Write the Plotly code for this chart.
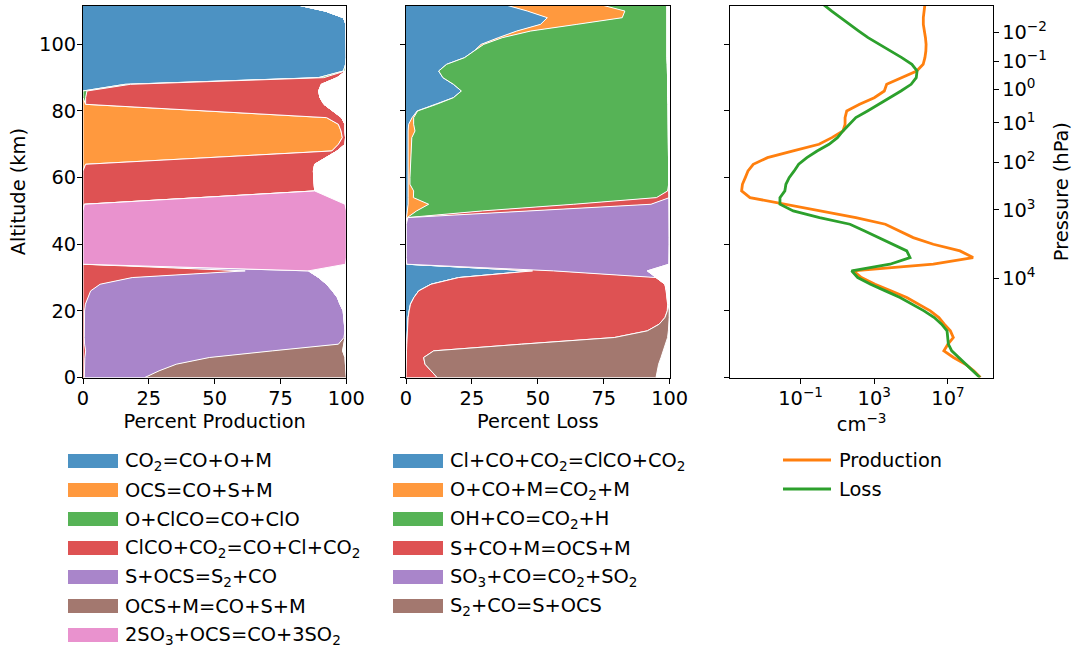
import plotly.graph_objects as go

# ---------------- data ----------------
alt = [0, 2, 4, 6, 8, 10, 12, 14, 16, 18, 20, 22, 24, 26, 28, 30, 32, 34, 36, 38,
       40, 42, 44, 46, 48, 50, 52, 54, 56, 58, 60, 62, 64, 66, 68, 70, 72, 74, 76, 78,
       80, 82, 84, 86, 88, 90, 92, 94, 96, 98, 100, 102, 104, 106, 108, 110, 112]

prod_labels = ["CO<sub>2</sub>=CO+O+M", "OCS=CO+S+M", "O+ClCO=CO+ClO",
               "ClCO+CO<sub>2</sub>=CO+Cl+CO<sub>2</sub>", "S+OCS=S<sub>2</sub>+CO",
               "OCS+M=CO+S+M", "2SO<sub>3</sub>+OCS=CO+3SO<sub>2</sub>"]
loss_labels = ["Cl+CO+CO<sub>2</sub>=ClCO+CO<sub>2</sub>", "O+CO+M=CO<sub>2</sub>+M",
               "OH+CO=CO<sub>2</sub>+H", "S+CO+M=OCS+M",
               "SO<sub>3</sub>+CO=CO<sub>2</sub>+SO<sub>2</sub>", "S<sub>2</sub>+CO=S+OCS"]
rate_labels = ["Production", "Loss"]

# percent production (altitude grid above)
p_co2_com = [0, 0, 0, 0, 0, 0, 0, 0, 0, 0, 0, 0, 0, 0, 0, 0, 0, 0, 0, 0,
             0, 0, 0, 0, 0, 0, 0, 0, 0, 0, 0, 0, 0, 0, 0, 0, 0, 0, 0, 0,
             0, 0, 0, 0, 16, 89.4, 98.9, 99.7, 100, 100, 100, 100, 100, 99.9, 98.9, 92, 80.5]
p_ocs_com = [0, 0, 0, 0, 0, 0, 0, 0, 0, 0, 0, 0, 0, 0, 0, 0, 0, 0, 0, 0,
             0, 0, 0, 0, 0, 0, 0, 0, 0, 0, 0, 0, 1, 48, 94.5, 97, 98.5, 98, 97, 92.5,
             45.5, 1, 0, 0, 0, 0, 0, 0, 0, 0, 0, 0, 0, 0, 0, 0, 0]
p_o_clco = [0, 0, 0, 0, 0, 0, 0, 0, 0, 0, 0, 0, 0, 0, 0, 0, 0, 0, 0, 0,
            0, 0, 0, 0, 0, 0, 0, 0, 0, 0, 0, 0, 0, 0, 0, 0, 0, 0, 0, 0,
            0, 0, 1, 1.5, 2, 2, 0.6, 0.2, 0, 0, 0, 0, 0, 0, 0, 0, 0]
p_clco_co2 = [0.5, 0.5, 0.5, 0.7, 1.0, 0.6, 0.5, 0.5, 0.5, 0.5, 0.6, 0.9, 1.8, 2.9, 6.5, 18.7, 61.6, 0, 0, 0,
              0, 0, 0, 0, 0, 0, 0.5, 44, 88, 87.8, 87.6, 87.5, 87, 44, 2, 2.5, 1.2, 1.5, 2.5, 5.7,
              49.5, 90.5, 89, 88, 72.5, 5.1, 0.3, 0.1, 0, 0, 0, 0, 0, 0, 0, 0, 0]
p_s_ocs = [23, 28.4, 35, 47.3, 71, 96.4, 98.6, 99, 98.8, 98.6, 98.2, 96.7, 94.8, 91.8, 86, 70.8, 24, 0, 0, 0,
           0, 0, 0, 0, 0, 0, 0, 0, 0, 0, 0, 0, 0, 0, 0, 0, 0, 0, 0, 0,
           0, 0, 0, 0, 0, 0, 0, 0, 0, 0, 0, 0, 0, 0, 0, 0, 0]
p_ocs_m = [76.5, 70.9, 64.1, 51.5, 26.6, 2, 0.4, 0, 0, 0, 0, 0, 0, 0, 0, 0, 0, 0, 0, 0,
           0, 0, 0, 0, 0, 0, 0, 0, 0, 0, 0, 0, 0, 0, 0, 0, 0, 0, 0, 0,
           0, 0, 0, 0, 0, 0, 0, 0, 0, 0, 0, 0, 0, 0, 0, 0, 0]
p_so3_ocs = [0, 0, 0, 0, 0, 0, 0, 0, 0, 0, 0, 0, 0, 0, 0, 0, 0, 99.7, 100, 100,
             100, 100, 100, 100, 100, 100, 99, 49.7, 0, 0, 0, 0, 0, 0, 0, 0, 0, 0, 0, 0,
             0, 0, 0, 0, 0, 0, 0, 0, 0, 0, 0, 0, 0, 0, 0, 0, 0]

# percent loss
l_cl_co = [0, 0, 0, 0.1, 0.2, 0.3, 0.4, 0.4, 0.5, 0.8, 1.2, 1.7, 3, 4.8, 9.5, 20, 48, 0.3, 0.1, 0.1,
           0.1, 0.1, 0.1, 0.1, 0.2, 0.5, 0.8, 0.8, 0.8, 0.6, 0.6, 0.6, 0.6, 0.6, 0.6, 0.6, 0.7, 0.8, 1.0, 2.3,
           4.2, 11.5, 18, 21, 18, 14, 12.4, 15.4, 22.2, 25.8, 28.5, 35, 42, 51, 53.6, 46, 37]
l_o_co = [0, 0, 0, 0, 0, 0, 0, 0, 0, 0, 0, 0, 0, 0, 0, 0, 0, 0, 0, 0,
          0, 0, 0, 0, 0.3, 3.5, 7.8, 2, 2.1, 0.9, 0.9, 1.0, 1.0, 1.2, 1.4, 1.4, 1.5, 2.6, 1.9, 0.6,
          0.2, 0.1, 0, 0, 0, 0, 0, 0, 0, 0, 1, 1.5, 5.3, 13.8, 28.4, 37, 36.3]
l_oh_co = [0, 0, 0, 0, 0, 0, 0, 0, 0, 0, 0, 0, 0, 0, 0, 0, 0, 0, 0, 0,
           0, 0, 0, 0, 0.1, 25, 55, 92.2, 96.3, 98.1, 98.1, 98.0, 98.0, 97.8, 97.6, 97.6, 97.4, 96.2, 96.7, 96.7,
           95.1, 87.8, 81.3, 78.3, 81.2, 85.2, 86.7, 83.7, 76.8, 73.2, 69.5, 62.5, 51.7, 34.2, 17, 16, 25.7]
l_s_co = [11.8, 9.5, 7.2, 6.6, 10.3, 43.5, 78.6, 91.1, 95.5, 97.4, 97.9, 97.5, 96, 94, 88.7, 74.8, 8, 0, 0, 0,
          0, 0, 0, 0, 0.1, 19.7, 29.3, 4.9, 0.7, 0.1, 0, 0, 0, 0, 0, 0, 0, 0, 0, 0,
          0, 0, 0, 0, 0, 0, 0, 0, 0, 0, 0, 0, 0, 0, 0, 0, 0]
l_so3_co = [0, 0, 0, 0, 0, 0, 0, 0, 0, 0, 0, 0, 0, 0, 0, 0, 35.5, 99.4, 99.7, 99.7,
            99.7, 99.7, 99.7, 99.7, 99.1, 51.2, 7, 0, 0, 0, 0, 0, 0, 0, 0, 0, 0, 0, 0, 0,
            0, 0, 0, 0, 0, 0, 0, 0, 0, 0, 0, 0, 0, 0, 0, 0, 0]
l_s2_co = [83, 85.8, 88.6, 90, 87, 54.5, 20.2, 8, 3.7, 1.6, 0.7, 0.2, 0, 0, 0, 0, 0, 0, 0, 0,
           0, 0, 0, 0, 0, 0, 0, 0, 0, 0, 0, 0, 0, 0, 0, 0, 0, 0, 0, 0,
           0, 0, 0, 0, 0, 0, 0, 0, 0, 0, 0, 0, 0, 0, 0, 0, 0]

# total CO production / loss rates (cm^-3)
prod_rate = [5.8e8, 2.5e8, 8.9e7, 2.0e7, 6.0e6, 1.0e7, 1.95e7, 1.35e7, 6.3e6, 3.2e6,
             1.1e6, 2.5e5, 5.8e4, 7.9e3, 1.1e3, 2.0e2, 7.2e1, 1.6e6, 2.3e8, 4.5e7,
             1.6e6, 1.3e5, 2.5e4, 4.0e3, 1.0e2, 1.26, 1.6e-2, 1.8e-4, 6.3e-5, 7.0e-5,
             1.0e-4, 1.4e-4, 2.7e-4, 1.6e-3, 4.0e-2, 1.0, 5.0, 2.0e1, 2.6e1, 2.6e1,
             3.2e1, 1.6e2, 1.0e3, 3.5e3, 4.7e3, 2.8e4, 2.0e5, 4.5e5, 5.6e5, 6.3e5,
             6.5e5, 6.0e5, 5.2e5, 4.6e5, 4.6e5, 5.0e5, 5.6e5]
loss_rate = [5.4e8, 2.2e8, 8.9e7, 3.6e7, 1.6e7, 1.05e7, 9.5e6, 8.9e6, 4.5e6, 1.8e6,
             5.0e5, 1.1e5, 2.5e4, 4.0e3, 6.3e2, 1.26e2, 5.9e1, 7.1e3, 8.7e4, 5.8e4,
             1.07e4, 1.8e3, 3.0e2, 4.8e1, 1.07, 4.0e-2, 7.6e-3, 7.6e-3, 1.4e-2, 1.6e-2,
             2.4e-2, 4.5e-2, 7.9e-2, 2.2e-1, 7.9e-1, 3.5, 1.0e1, 2.0e1, 4.5e1, 1.0e2,
             4.3e2, 1.8e3, 7.1e3, 2.8e4, 1.0e5, 1.9e5, 2.1e5, 1.1e5, 3.1e4, 7.9e3,
             1.9e3, 4.6e2, 1.45e2, 4.5e1, 1.45e1, 4.9, 1.7]

# pressure axis ticks (altitude km -> pressure label)
press_alt = [103.7, 94.8, 86.4, 76.4, 64.6, 50.3, 29.7]
press_lab = ["10<sup>\u22122</sup>", "10<sup>\u22121</sup>", "10<sup>0</sup>", "10<sup>1</sup>",
             "10<sup>2</sup>", "10<sup>3</sup>", "10<sup>4</sup>"]

# ---------------- styling ----------------
c_blue, c_orange, c_green = "#4c92c3", "#ff993e", "#56b356"
c_red, c_purple, c_brown, c_pink = "#de5253", "#a985ca", "#a3786f", "#e992ce"
prod_colors = [c_blue, c_orange, c_green, c_red, c_purple, c_brown, c_pink]
loss_colors = [c_blue, c_orange, c_green, c_red, c_purple, c_brown]
line_colors = ["#ff7f0e", "#2ca02c"]

W, H = 1079, 651
FS = 19.4
FONT = "DejaVu Sans"


def px(x):
    return x / W


def py(y):
    return 1 - y / H


fig = go.Figure()

prod_series = [p_co2_com, p_ocs_com, p_o_clco, p_clco_co2, p_s_ocs, p_ocs_m, p_so3_ocs]
for name, vals, col in zip(prod_labels, prod_series, prod_colors):
    fig.add_trace(go.Scatter(x=vals, y=alt, stackgroup="prod", orientation="h", mode="lines",
                             line=dict(color="white", width=1), fillcolor=col, name=name,
                             xaxis="x", yaxis="y", showlegend=False))

loss_series = [l_cl_co, l_o_co, l_oh_co, l_s_co, l_so3_co, l_s2_co]
for name, vals, col in zip(loss_labels, loss_series, loss_colors):
    fig.add_trace(go.Scatter(x=vals, y=alt, stackgroup="loss", orientation="h", mode="lines",
                             line=dict(color="white", width=1), fillcolor=col, name=name,
                             xaxis="x2", yaxis="y2", showlegend=False))

for name, vals, col in zip(rate_labels, [prod_rate, loss_rate], line_colors):
    fig.add_trace(go.Scatter(x=vals, y=alt, mode="lines", line=dict(color=col, width=2.8),
                             name=name, xaxis="x3", yaxis="y3", showlegend=False))

# keep the pressure axis alive
fig.add_trace(go.Scatter(x=[None], y=[None], xaxis="x3", yaxis="y4", showlegend=False,
                         hoverinfo="skip"))

yr = [0, 111.6]
ydom = [py(377.5), py(5.7)]
axcommon = dict(showline=True, linecolor="black", linewidth=1, mirror=True, ticks="outside",
                ticklen=5, tickwidth=1, tickcolor="black", showgrid=False, zeroline=False,
                automargin=False,
                tickfont=dict(family=FONT, size=FS, color="black"))
xtick_adj = dict(ticklabelstandoff=-2)
ytick_adj = dict(ticklabelstandoff=-3)

fig.update_layout(
    width=W, height=H, margin=dict(l=0, r=0, t=0, b=0, autoexpand=False),
    paper_bgcolor="white", plot_bgcolor="white",
    font=dict(family=FONT, size=FS, color="black"),
    xaxis=dict(domain=[px(83), px(346.3)], range=[0, 100], tickvals=[0, 25, 50, 75, 100],
               anchor="y", title=dict(text="Percent Production", standoff=2,
                                      font=dict(family=FONT, size=FS)),
               **axcommon, **xtick_adj),
    yaxis=dict(domain=ydom, range=yr, tickvals=[0, 20, 40, 60, 80, 100], anchor="x",
               title=dict(text="Altitude (km)", standoff=8, font=dict(family=FONT, size=FS)),
               **axcommon, **ytick_adj),
    xaxis2=dict(domain=[px(406), px(669.7)], range=[0, 100], tickvals=[0, 25, 50, 75, 100],
                anchor="y2", title=dict(text="Percent Loss", standoff=2,
                                        font=dict(family=FONT, size=FS)),
                **axcommon, **xtick_adj),
    yaxis2=dict(domain=ydom, range=yr, tickvals=[0, 20, 40, 60, 80, 100], anchor="x2",
                showticklabels=False, **axcommon),
    xaxis3=dict(domain=[px(730), px(993.3)], type="log", range=[-4.83, 9.46],
                tickvals=[1e-1, 1e3, 1e7],
                ticktext=["10<sup>\u22121</sup>", "10<sup>3</sup>", "10<sup>7</sup>"],
                anchor="y3", title=dict(text="cm<sup>\u22123</sup>", standoff=2,
                                        font=dict(family=FONT, size=FS)),
                **axcommon, **xtick_adj),
    yaxis3=dict(domain=ydom, range=yr, tickvals=[0, 20, 40, 60, 80, 100], anchor="x3",
                showticklabels=False, **axcommon),
    yaxis4=dict(overlaying="y3", side="right", anchor="x3", range=yr, tickvals=press_alt,
                ticktext=press_lab, ticks="outside", ticklen=5, tickwidth=1, tickcolor="black",
                showgrid=False, zeroline=False, showline=False, automargin=False,
                ticklabelstandoff=-1,
                tickfont=dict(family=FONT, size=FS, color="black"),
                title=dict(text="Pressure (hPa)", standoff=8, font=dict(family=FONT, size=FS))),
)

# ---------------- legends (drawn below the panels) ----------------
shapes = []
annots = []
rows = [461, 490, 519, 548, 577, 606, 635]
for i, (lab, col) in enumerate(zip(prod_labels, prod_colors)):
    yc = rows[i]
    shapes.append(dict(type="rect", xref="paper", yref="paper", x0=px(68), x1=px(118),
                       y0=py(yc + 7), y1=py(yc - 7), fillcolor=col, line=dict(width=0)))
    annots.append(dict(x=px(123), y=py(yc), xref="paper", yref="paper", text=lab,
                       showarrow=False, xanchor="left", yanchor="middle",
                       font=dict(family=FONT, size=FS, color="black")))
for i, (lab, col) in enumerate(zip(loss_labels, loss_colors)):
    yc = rows[i]
    shapes.append(dict(type="rect", xref="paper", yref="paper", x0=px(393), x1=px(443),
                       y0=py(yc + 7), y1=py(yc - 7), fillcolor=col, line=dict(width=0)))
    annots.append(dict(x=px(448), y=py(yc), xref="paper", yref="paper", text=lab,
                       showarrow=False, xanchor="left", yanchor="middle",
                       font=dict(family=FONT, size=FS, color="black")))
for i, (lab, col) in enumerate(zip(rate_labels, line_colors)):
    yc = [460, 489][i]
    shapes.append(dict(type="line", xref="paper", yref="paper", x0=px(783), x1=px(831),
                       y0=py(yc), y1=py(yc), line=dict(color=col, width=2.8)))
    annots.append(dict(x=px(837), y=py(yc), xref="paper", yref="paper", text=lab,
                       showarrow=False, xanchor="left", yanchor="middle",
                       font=dict(family=FONT, size=FS, color="black")))

fig.update_layout(shapes=shapes, annotations=annots)
fig.write_html("out.html", config={"displayModeBar": False},
               post_script="document.body.style.margin='0px';"
                           "document.body.style.overflow='hidden';")
